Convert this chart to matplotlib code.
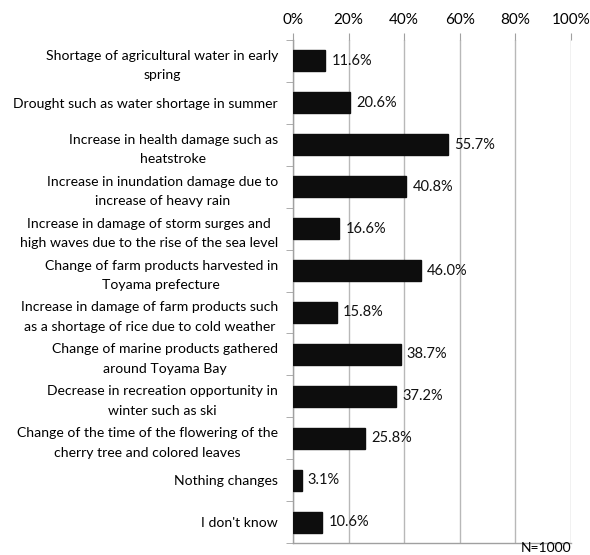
import matplotlib
matplotlib.use("Agg")
import matplotlib.pyplot as plt
import numpy as np

plt.rcParams['font.family'] = ['Lato', 'DejaVu Sans']

categories = [
    "Shortage of agricultural water in early\nspring",
    "Drought such as water shortage in summer",
    "Increase in health damage such as\nheatstroke",
    "Increase in inundation damage due to\nincrease of heavy rain",
    "Increase in damage of storm surges and\nhigh waves due to the rise of the sea level",
    "Change of farm products harvested in\nToyama prefecture",
    "Increase in damage of farm products such\nas a shortage of rice due to cold weather",
    "Change of marine products gathered\naround Toyama Bay",
    "Decrease in recreation opportunity in\nwinter such as ski",
    "Change of the time of the flowering of the\ncherry tree and colored leaves",
    "Nothing changes",
    "I don't know",
]
values = [11.6, 20.6, 55.7, 40.8, 16.6, 46.0, 15.8, 38.7, 37.2, 25.8, 3.1, 10.6]
x_ticks = [0, 20, 40, 60, 80, 100]
x_tick_labels = ["0%", "20%", "40%", "60%", "80%", "100%"]
sample_note = "N=1000"

W, H = 590, 555
fig = plt.figure(figsize=(W / 100, H / 100), dpi=100)
ax = fig.add_axes([293 / W, 1 - 543 / H, (571 - 293) / W, (543 - 40) / H])

n = len(categories)
y = np.arange(n)
ax.barh(y, values, height=0.5, color="#0d0d0d", edgecolor="#0d0d0d", zorder=3)

for yi, v in zip(y, values):
    ax.annotate(f"{v:.1f}%", (v, yi), xytext=(4.5, 0), textcoords="offset points",
                va="center", ha="left", fontsize=10.5, color="#111111", zorder=4)

ax.set_xlim(0, 100)
ax.set_ylim(n - 0.5, -0.5)
ax.xaxis.tick_top()
ax.set_xticks(x_ticks)
ax.set_xticklabels(x_tick_labels, fontsize=11)
ax.tick_params(axis="x", length=5, color="#a0a0a0", pad=4)
ax.grid(axis="x", color="#b8b8b8", linewidth=1.0, zorder=0)

ax.set_yticks(y)
ax.set_yticklabels(categories, fontsize=10.1)
for lbl in ax.get_yticklabels():
    lbl.set_multialignment("center")
    lbl.set_linespacing(1.75)
ax.tick_params(axis="y", which="major", length=0, pad=10.8)
ax.set_yticks(np.arange(n + 1) - 0.5, minor=True)
ax.tick_params(axis="y", which="minor", length=5, color="#a0a0a0")

for side in ["top", "right"]:
    ax.spines[side].set_visible(False)
for side in ["left", "bottom"]:
    ax.spines[side].set_color("#a0a0a0")
    ax.spines[side].set_linewidth(1.0)

fig.text(571 / W, 2.5 / H, sample_note, ha="right", va="baseline", fontsize=10)

fig.savefig("out.png", dpi=100)
